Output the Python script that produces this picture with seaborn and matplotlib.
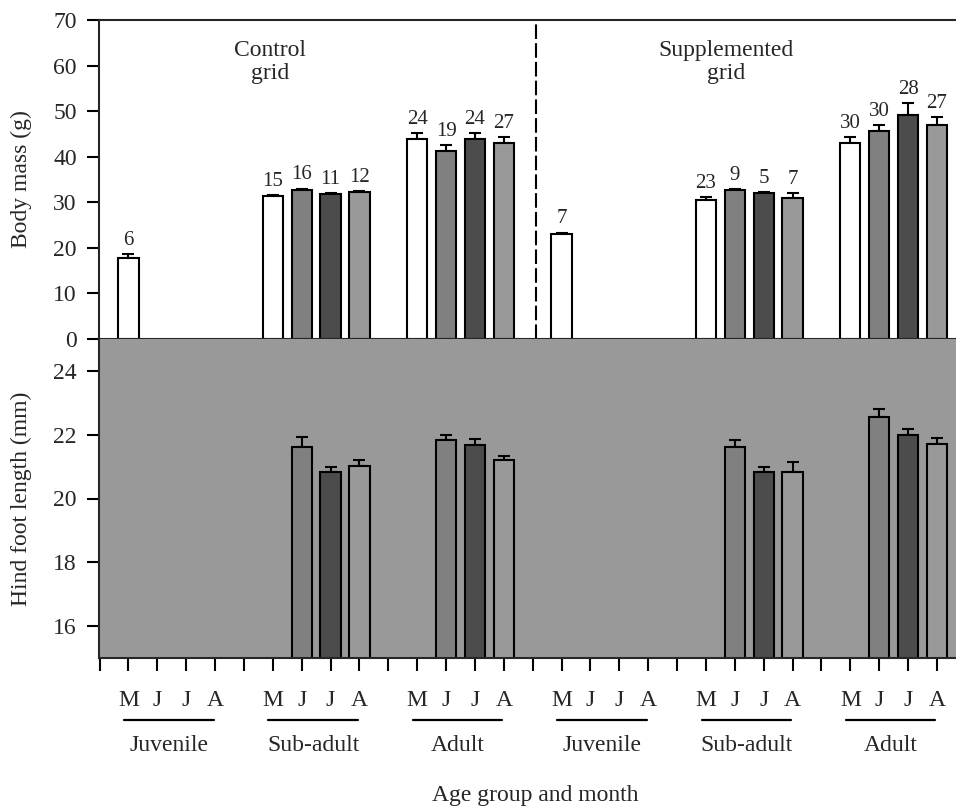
import numpy as np
import pandas as pd
import matplotlib
matplotlib.use("Agg")
import matplotlib.pyplot as plt
import matplotlib.transforms as mtransforms
import seaborn as sns

nan = np.nan

grids = ["Control\ngrid", "Supplemented\ngrid"]
age_groups = ["Juvenile", "Sub-adult", "Adult"]
month_letters = ["M", "J", "J", "A"]
month_names = ["May", "June", "July", "August"]
month_colors = ["#ffffff", "#808080", "#4c4c4c", "#999999"]

# body mass (g): rows = age group, cols = month (nan = no bar)
mass_control = [[17.8, nan, nan, nan], [31.3, 32.7, 31.8, 32.2], [43.9, 41.3, 43.9, 43.05]]
mass_control_se = [[0.8, nan, nan, nan], [0.35, 0.3, 0.25, 0.3], [1.2, 1.2, 1.2, 1.2]]
n_control = [[6, nan, nan, nan], [15, 16, 11, 12], [24, 19, 24, 27]]

mass_supp = [[23.0, nan, nan, nan], [30.4, 32.6, 32.1, 30.85], [43.05, 45.7, 49.1, 47.0]]
mass_supp_se = [[0.35, nan, nan, nan], [0.8, 0.3, 0.1, 1.2], [1.25, 1.15, 2.6, 1.7]]
n_supp = [[7, nan, nan, nan], [23, 9, 5, 7], [30, 30, 28, 27]]

# hind foot length (mm)
foot_control = [[nan, nan, nan, nan], [nan, 21.63, 20.82, 21.01], [nan, 21.82, 21.69, 21.20]]
foot_control_se = [[nan, nan, nan, nan], [nan, 0.31, 0.18, 0.19], [nan, 0.18, 0.19, 0.12]]
foot_supp = [[nan, nan, nan, nan], [nan, 21.63, 20.82, 20.82], [nan, 22.57, 22.0, 21.70]]
foot_supp_se = [[nan, nan, nan, nan], [nan, 0.19, 0.18, 0.31], [nan, 0.25, 0.19, 0.19]]

tables = {
    "mass": [mass_control, mass_supp],
    "mass_se": [mass_control_se, mass_supp_se],
    "n": [n_control, n_supp],
    "foot": [foot_control, foot_supp],
    "foot_se": [foot_control_se, foot_supp_se],
}

# one row per bar slot; slots: 4 months + 1 gap per age group, 15 per grid
rows = []
for gi in range(len(grids)):
    for ai, age in enumerate(age_groups):
        for mi, month in enumerate(month_names):
            row = {"grid": gi, "age": age, "month": month, "slot": gi * 15 + ai * 5 + mi}
            for key, vals in tables.items():
                row[key] = vals[gi][ai][mi]
            rows.append(row)
df = pd.DataFrame(rows)

sns.set_theme(style="ticks")
plt.rcParams["font.family"] = ["Liberation Serif", "DejaVu Serif"]
plt.rcParams["axes.linewidth"] = 1.5

W, H = 956, 810
fig = plt.figure(figsize=(W / 100, H / 100), dpi=100)
left, right = 99, 956
ax_top = fig.add_axes([left / W, (H - 339) / H, (right - left) / W, (339 - 20) / H])
ax_bot = fig.add_axes([left / W, (H - 658) / H, (right - left) / W, (658 - 339) / H])
ax_bot.set_facecolor("#999999")

palette = dict(zip(month_names, month_colors))
for ax, col in [(ax_top, "mass"), (ax_bot, "foot")]:
    d = df.dropna(subset=[col])
    sns.barplot(data=d, x="slot", y=col, hue="month", hue_order=month_names,
                palette=palette, native_scale=True, dodge=False, width=0.7,
                edgecolor="black", linewidth=1.5, errorbar=None, legend=False,
                ax=ax, zorder=2)
    ax.errorbar(d["slot"], d[col], yerr=[np.zeros(len(d)), d[col + "_se"]],
                fmt="none", ecolor="black", elinewidth=1.5, capsize=4,
                capthick=1.5, zorder=1)
    ax.set_xlim(-1.02, 28.66)
    ax.set_xlabel("")
    ax.spines["right"].set_visible(False)

# sample sizes above the body mass bars
d = df.dropna(subset=["mass"])
for _, r in d.iterrows():
    ax_top.annotate(f"{int(r['n'])}", (r["slot"], r["mass"] + r["mass_se"]),
                    xytext=(0, 3), textcoords="offset points",
                    ha="center", va="bottom", fontsize=15)

ax_top.set_ylim(0, 70)
ax_top.set_yticks(range(0, 71, 10))
ax_top.set_xticks([])
ax_top.set_ylabel("Body mass (g)", fontsize=17)
ax_top.axvline(14.1, color="black", lw=1.5, ls=(0, (7, 2)))
ax_top.text(4.9, 60.8, grids[0], ha="center", va="center", fontsize=17, linespacing=1.15)
ax_top.text(20.7, 60.8, grids[1], ha="center", va="center", fontsize=17, linespacing=1.15)

ax_bot.set_ylim(15, 25)
ax_bot.set_yticks(range(16, 25, 2))
ax_bot.set_xticks(range(-1, 29))
ax_bot.set_xticklabels([])
ax_bot.spines["top"].set_visible(False)
ax_bot.set_ylabel("Hind foot length (mm)", fontsize=17)

for ax in (ax_top, ax_bot):
    ax.tick_params(direction="out", length=9, width=1.5, labelsize=17, pad=7, color="black")
    ax.yaxis.set_label_coords(-0.078, 0.5)

# month letters, underlines and age-group names below the lower panel
trans = mtransforms.blended_transform_factory(ax_bot.transData, ax_bot.transAxes)
for gi in range(len(grids)):
    for ai, age in enumerate(age_groups):
        g = gi * 15 + ai * 5
        for mi, m in enumerate(month_letters):
            ax_bot.text(g + mi, -0.132, m, transform=trans, ha="center", va="center", fontsize=17)
        ax_bot.plot([g - 0.15, g + 2.95], [-0.194, -0.194], transform=trans,
                    color="black", lw=1.6, clip_on=False)
        ax_bot.text(g + 1.4, -0.273, age, transform=trans, ha="center", va="center", fontsize=17)

fig.text(535 / W, 1 - 795 / H, "Age group and month", ha="center", va="center", fontsize=17)

fig.savefig("out.png", dpi=100)
